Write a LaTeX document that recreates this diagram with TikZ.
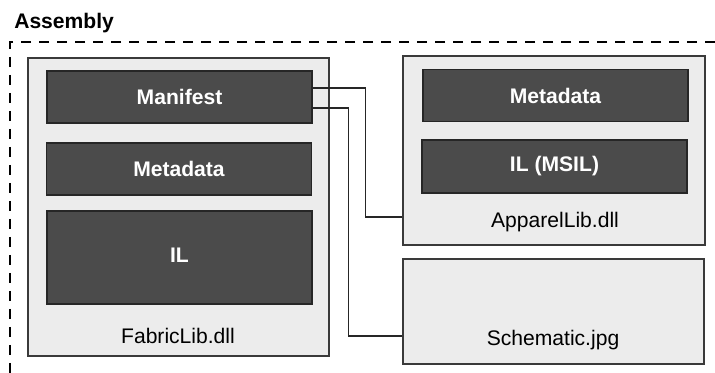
\documentclass[tikz,border=0pt]{standalone}
\usepackage{fontspec}
\setmainfont{Liberation Sans}
\usepackage{xcolor}
\usepackage{tikz}
\definecolor{panelgray}{HTML}{ECECEC}
\definecolor{blockgray}{HTML}{4B4B4B}
\definecolor{edgegray}{HTML}{3A3A3A}
\tikzset{
  filebox/.style={draw=edgegray, fill=panelgray, line width=0.8pt, minimum width=7.525cm, inner sep=0pt},
  partbox/.style={draw=black!85, fill=blockgray, line width=1pt, text=white, font=\fontsize{15}{18}\selectfont\bfseries,
    minimum width=6.625cm, minimum height=1.3cm, inner sep=0pt},
  filename/.style={anchor=base, inner sep=0pt, font=\fontsize{15}{18}\selectfont},
  link/.style={draw=black!85, line width=0.8pt}
}
\begin{document}
\begin{tikzpicture}[x=0.025cm, y=-0.025cm]
    \useasboundingbox (0,0) rectangle (715,373);
    \node[anchor=base west, inner sep=0pt, font=\fontsize{15}{18}\selectfont\bfseries] (assembly) at (14,29) {Assembly};
    \draw[line width=1.2pt, dash pattern=on 7pt off 5.8pt] (715,42) -- (10,42) -- (10,373);
    % FabricLib.dll
    \node[filebox, minimum height=7.45cm] (fabric) at (178.5,207) {};
    \node[partbox] (manifest) at (179.5,97) {Manifest};
    \node[partbox] (meta) at (179,169) {Metadata};
    \node[partbox, minimum height=2.325cm] (il) at (179.5,257.5) {\raisebox{3.5pt}{IL}};
    \node[filename] (fabricname) at (178,343) {FabricLib.dll};
    % ApparelLib.dll
    \node[filebox, minimum width=7.55cm, minimum height=4.725cm] (apparel) at (554,150.5) {};
    \node[partbox] (meta2) at (555.5,95.5) {Metadata};
    \node[partbox, minimum height=1.325cm] (msil) at (554.5,166.5) {IL (MSIL)};
    \node[filename] (apparelname) at (555,227) {ApparelLib.dll};
    % Schematic.jpg
    \node[filebox, minimum height=2.625cm] (schematic) at (553.5,311.5) {};
    \node[filename] (schematicname) at (553,345) {Schematic.jpg};
    % manifest links
    \draw[link] ([yshift=0.225cm]manifest.east) -- ++(53,0) |- ([yshift=-1.6625cm]apparel.west);
    \draw[link] ([yshift=-0.275cm]manifest.east) -- ++(36,0) |- ([yshift=-0.6125cm]schematic.west);
  \end{tikzpicture}
\end{document}
